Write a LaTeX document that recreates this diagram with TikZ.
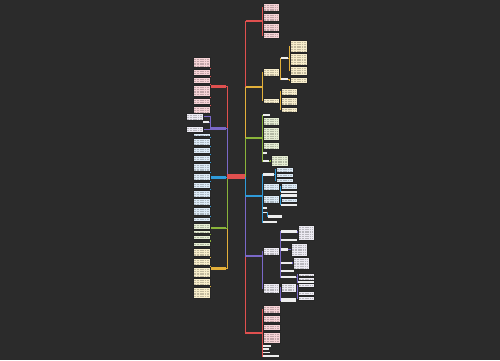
\documentclass[tikz,border=0pt]{standalone}
\usetikzlibrary{calc}
\definecolor{bg}{HTML}{2B2B2B}
\definecolor{cR}{HTML}{E0504F}
\definecolor{cP}{HTML}{7A68C8}
\definecolor{cB}{HTML}{2F9BDA}
\definecolor{cG}{HTML}{8AB43A}
\definecolor{cY}{HTML}{E3B03A}
\definecolor{pk}{HTML}{F6D3D6}
\definecolor{wh}{HTML}{ECEAF2}
\definecolor{bl}{HTML}{DCEAF6}
\definecolor{gr}{HTML}{E5EDD3}
\definecolor{ye}{HTML}{F7EDCB}
\definecolor{sw}{HTML}{EEEEEE}
\pgfdeclarelayer{bgl}
\pgfdeclarelayer{edges}
\pgfsetlayers{bgl,edges,main}
\tikzset{
  boxst/.style={draw=black!85, line width=0.4pt, inner sep=0pt, outer sep=0pt, rectangle},
  barst/.style={inner sep=0pt, outer sep=0pt, rectangle},
  ln/.style={line width=0.7pt},
}
\newcommand\bx[6]{\node[boxst, fill=#6, minimum width={(#4-#2)*1pt}, minimum height={(#5-#3)*1pt},
  path picture={\foreach \yy in {1.9,3.8,...,60}{\draw[line width=0.35pt,#6!78!black,dash pattern=on 1.6pt off 0.5pt on 0.9pt off 0.4pt] ([xshift=1.4pt,yshift=-\yy pt]path picture bounding box.north west) -- ([xshift=-1.4pt,yshift=-\yy pt]path picture bounding box.north east);}}]
  (#1) at ({(#2+#4)/2},{(#3+#5)/2}) {};}
\newcommand\bb[6]{\node[barst, fill=#6, minimum width={(#4-#2)*1pt}, minimum height={(#5-#3)*1pt}] (#1) at ({(#2+#4)/2},{(#3+#5)/2}) {};}
\newcommand\sx[5]{\node[barst, fill=sw, minimum width={(#4-#2)*1pt}, minimum height={(#5-#3)*1pt}] (#1) at ({(#2+#4)/2},{(#3+#5)/2}) {};}
\newcommand\conL[3]{\draw[ln,#1] (#3.west) -- ++(-1,0) |- (#2.east);}
\newcommand\conR[4]{\draw[ln,#1] (#3.east) -- ++(#4,0) |- (#2.west);}
\newcommand\tL[2]{\draw[ln,#1] (C.west) |- (#2.east);}
\newcommand\tR[2]{\draw[ln,#1] (C.east) |- (#2.west);}
\begin{document}
\begin{tikzpicture}[x=1pt,y=-1pt]
\begin{pgfonlayer}{bgl}
\fill[bg] (0,0) rectangle (500,360);
\end{pgfonlayer}
\useasboundingbox (0,0) rectangle (500,360);
% centre
\bb{C}{227}{174}{245}{179}{cR}
% ---------- left: red
\bb{L1}{211}{85}{226}{88}{cR}
\bx{L1a}{193}{57}{210}{67}{pk}
\bx{L1b}{193}{69}{210}{75}{pk}
\bx{L1c}{193}{77}{210}{83}{pk}
\bx{L1d}{193}{85}{210}{96}{pk}
\bx{L1e}{193}{98}{210}{104}{pk}
\bx{L1f}{193}{106}{210}{113}{pk}
% left: purple
\bb{L2}{211}{127}{226}{130}{cP}
\bx{L2a}{186}{113}{203}{120}{wh}
\sx{L2b}{203}{121}{209}{123}
\bx{L2c}{186}{126}{203}{132}{wh}
% left: blue
\bb{L3}{211}{176}{226}{179}{cB}
\bx{L3a}{193}{133}{210}{136}{bl}
\bx{L3b}{193}{138}{210}{145}{bl}
\bx{L3c}{193}{147}{210}{153}{bl}
\bx{L3d}{193}{155}{210}{161}{bl}
\bx{L3e}{193}{163}{210}{171}{bl}
\bx{L3f}{193}{173}{210}{180}{bl}
\bx{L3g}{193}{182}{210}{188}{bl}
\bx{L3h}{193}{190}{210}{197}{bl}
\bx{L3i}{193}{198}{210}{205}{bl}
\bx{L3j}{193}{207}{210}{215}{bl}
\bx{L3k}{193}{217}{210}{221}{bl}
% left: green
\bb{L4}{211}{227}{226}{229}{cG}
\bx{L4a}{193}{223}{210}{229}{gr}
\bx{L4b}{193}{230}{210}{233}{gr}
\bx{L4c}{193}{235}{210}{239}{gr}
\bx{L4d}{193}{242}{210}{246}{gr}
% left: yellow
\bb{L5}{211}{267}{226}{270}{cY}
\bx{L5a}{193}{248}{210}{256}{ye}
\bx{L5b}{193}{258}{210}{265}{ye}
\bx{L5c}{193}{267}{210}{277}{ye}
\bx{L5d}{193}{278}{210}{285}{ye}
\bx{L5e}{193}{287}{210}{298}{ye}
% ---------- right: red top
\bb{R1}{246}{20}{262}{22}{cR}
\bx{R1a}{263}{3}{279}{11}{pk}
\bx{R1b}{263}{13}{279}{21}{pk}
\bx{R1c}{263}{23}{279}{31}{pk}
\bx{R1d}{263}{32}{279}{38}{pk}
% right: yellow
\bb{R2}{246}{86}{262}{88}{cY}
\bx{Y1}{263}{68}{279}{76}{ye}
\bx{Y2}{263}{98}{279}{103}{ye}
\sx{Ys1}{281}{57}{288}{59}
\sx{Ys2}{281}{78}{288}{80}
\bx{Y1a}{290}{40}{307}{52}{ye}
\bx{Y1b}{290}{53}{307}{65}{ye}
\bx{Y1c}{290}{66}{307}{75}{ye}
\bx{Y1d}{290}{77}{307}{83}{ye}
\bx{Y2a}{281}{88}{297}{95}{ye}
\bx{Y2b}{281}{97}{297}{105}{ye}
\bx{Y2c}{281}{107}{297}{112}{ye}
% right: green
\bb{R3}{246}{137}{262}{139}{cG}
\sx{G1}{263}{114}{270}{116}
\bx{G2}{263}{117}{279}{125}{gr}
\bx{G3}{263}{127}{279}{140}{gr}
\bx{G4}{263}{142}{279}{149}{gr}
\sx{G5}{263}{152}{267}{153.5}
\sx{G6}{263}{160}{269}{162}
\bx{G6a}{271}{155}{288}{166}{gr}
% right: blue
\bb{R4}{246}{195}{262}{197}{cB}
\sx{B1}{263}{173}{274}{176}
\bx{B1a}{276}{167}{293}{172}{bl}
\bx{B1b}{276}{173}{293}{177}{bl}
\bx{B1c}{276}{178}{293}{182}{bl}
\bx{B2}{263}{183}{279}{190}{bl}
\bx{B2a}{281}{183}{297}{189}{bl}
\sx{B2b}{281}{190.5}{297}{193}
\bx{B3}{263}{195}{279}{203}{bl}
\sx{B3a}{281}{194}{297}{197}
\bx{B3b}{281}{198}{297}{202}{bl}
\sx{B3c}{281}{203.5}{297}{205.5}
\sx{B4}{263}{207}{267}{209}
\sx{B5}{263}{211.5}{267}{213}
\sx{B5a}{268}{215}{282}{218}
\sx{B6}{263}{221}{277}{223}
% right: purple
\bb{R5}{246}{255}{262}{257}{cP}
\bx{P0}{263}{247}{279}{255}{wh}
\sx{P1}{281}{230}{297}{233}
\bx{P1a}{298}{225}{314}{240}{wh}
\sx{P2}{281}{239}{297}{241}
\sx{P3}{281}{248}{288}{251}
\bx{P3a}{291}{243}{307}{256}{wh}
\sx{P4}{281}{261.5}{292}{263.5}
\bx{P4a}{293}{257}{309}{269}{wh}
\sx{P5}{281}{270}{294}{272}
\sx{P6}{281}{276}{296}{278}
\bx{P6a}{298}{273}{314}{276}{wh}
\bx{P6b}{298}{277}{314}{280}{wh}
\sx{P6c}{298}{281}{314}{283}
\bx{Q0}{263}{283}{279}{293}{wh}
\bx{Q1}{281}{283}{296}{292}{wh}
\bx{Q1a}{298}{283}{314}{287}{wh}
\bx{Q1b}{298}{291.5}{314}{295}{wh}
\bx{Q1c}{298}{296}{314}{300}{wh}
\sx{Q2}{281}{298}{296}{302}
% right: red bottom
\bb{R6}{246}{332}{262}{334}{cR}
\bx{R6a}{263}{305}{280}{313}{pk}
\bx{R6b}{263}{315}{280}{322}{pk}
\bx{R6c}{263}{324}{280}{330}{pk}
\bx{R6d}{263}{332}{280}{343}{pk}
\sx{R6e}{263}{344.5}{271}{346.5}
\sx{R6f}{263}{348}{269}{350}
\sx{R6g}{263}{351.5}{270}{353}
\sx{R6h}{263}{355}{279}{357}
% ---------- connectors
\begin{pgfonlayer}{edges}
\tR{cR}{R1}\tR{cR}{R6}\tR{cY}{R2}\tR{cP}{R5}\tR{cG}{R3}\tR{cB}{R4}
\tL{cR}{L1}\tL{cY}{L5}\tL{cP}{L2}\tL{cG}{L4}\tL{cB}{L3}
\foreach \k in {L1a,L1b,L1c,L1d,L1e,L1f}{\conL{cR}{\k}{L1}}
\foreach \k in {L2a,L2b,L2c}{\conL{cP}{\k}{L2}}
\foreach \k in {L3a,L3b,L3c,L3d,L3e,L3f,L3g,L3h,L3i,L3j,L3k}{\conL{cB}{\k}{L3}}
\foreach \k in {L4a,L4b,L4c,L4d}{\conL{cG}{\k}{L4}}
\foreach \k in {L5a,L5b,L5c,L5d,L5e}{\conL{cY}{\k}{L5}}
\foreach \k in {R1a,R1b,R1c,R1d}{\conR{cR}{\k}{R1}{0.5}}
\foreach \k in {Y1,Y2}{\conR{cY}{\k}{R2}{0.5}}
\foreach \k in {Ys1,Ys2}{\conR{cY}{\k}{Y1}{1}}
\foreach \k in {Y1a,Y1b,Y1c}{\conR{cY}{\k}{Ys1}{1}}
\conR{cY}{Y1d}{Ys2}{1}
\foreach \k in {Y2a,Y2b,Y2c}{\conR{cY}{\k}{Y2}{1}}
\foreach \k in {G1,G2,G3,G4,G5,G6}{\conR{cG}{\k}{R3}{0.5}}
\conR{cG}{G6a}{G6}{1}
\foreach \k in {B1,B2,B3,B4,B5,B6}{\conR{cB}{\k}{R4}{0.5}}
\foreach \k in {B1a,B1b,B1c}{\conR{cB}{\k}{B1}{1}}
\foreach \k in {B2a,B2b}{\conR{cB}{\k}{B2}{1}}
\foreach \k in {B3a,B3b,B3c}{\conR{cB}{\k}{B3}{1}}
\conR{cB}{B5a}{B5}{0.5}
\foreach \k in {P0,Q0}{\conR{cP}{\k}{R5}{0.5}}
\foreach \k in {P1,P2,P3,P4,P5,P6}{\conR{cP}{\k}{P0}{1}}
\conR{cP}{P1a}{P1}{0.5}
\conR{cP}{P3a}{P3}{1}
\conR{cP}{P4a}{P4}{0.5}
\foreach \k in {P6a,P6b,P6c}{\conR{cP}{\k}{P6}{1}}
\foreach \k in {Q1,Q2}{\conR{cP}{\k}{Q0}{1}}
\foreach \k in {Q1a,Q1b,Q1c}{\conR{cP}{\k}{Q1}{1}}
\foreach \k in {R6a,R6b,R6c,R6d,R6e,R6f,R6g,R6h}{\conR{cR}{\k}{R6}{0.5}}
\end{pgfonlayer}
\end{tikzpicture}
\end{document}
